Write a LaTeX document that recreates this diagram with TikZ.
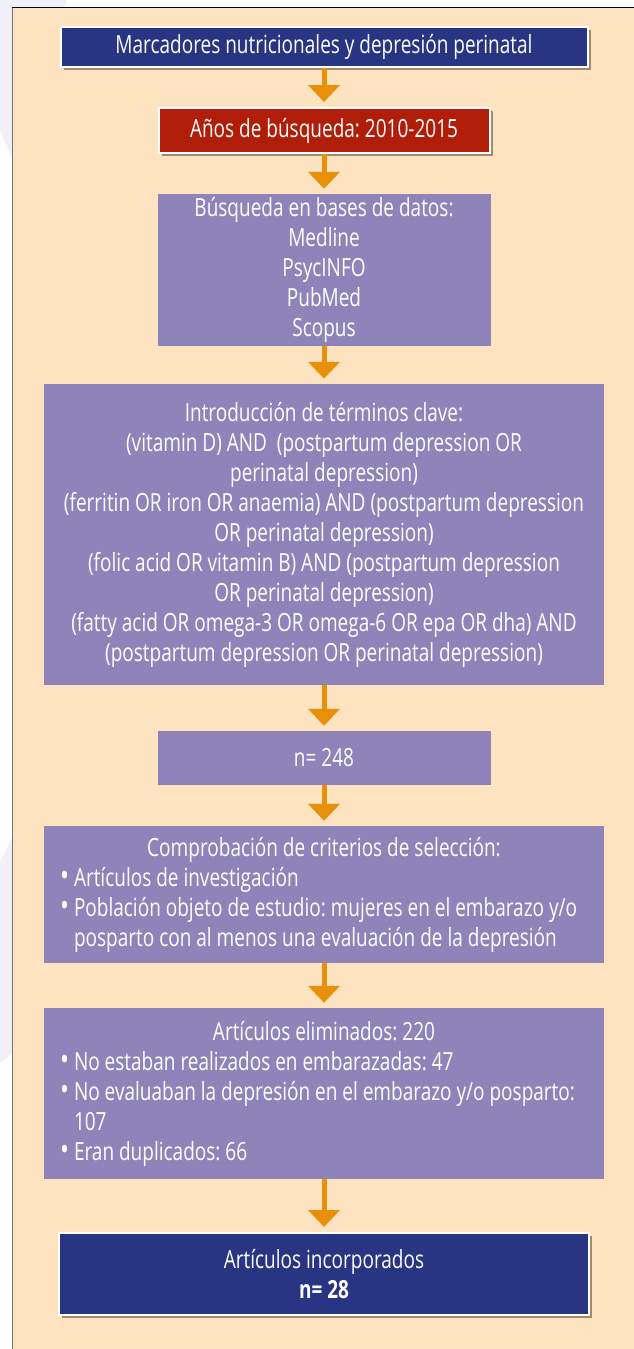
\documentclass[tikz,border=0pt]{standalone}
\usepackage{fontspec}
\setmainfont{Open Sans}[FakeStretch=0.76]
\usetikzlibrary{arrows.meta,shadows}

\definecolor{fondo}{HTML}{FDE3C0}
\definecolor{lila}{HTML}{F1F0F8}
\definecolor{marino}{HTML}{283583}
\definecolor{rojo}{HTML}{B01E0A}
\definecolor{morado}{HTML}{8F84BA}
\definecolor{naranja}{HTML}{E8900A}

% vinetas de las listas
\newcommand{\vineta}{\par\noindent\hspace*{16pt}\makebox[14pt][l]{\scalebox{1.25}{\textbullet}}}
\newcommand{\sigue}{\par\noindent\hspace*{30pt}}

\tikzset{
  caja/.style={fill=morado, text=white, inner sep=0pt, align=flush center,
    font=\fontsize{25}{30}\selectfont\frenchspacing},
  cajaborde/.style={caja, draw=white, line width=2pt,
    drop shadow={shadow xshift=3pt, shadow yshift=-3pt, fill=black!60!brown, opacity=.5}},
  flecha/.style={draw=naranja, line width=5pt, -{Triangle[width=31pt,length=17pt]}, shorten >=5pt}
}

\begin{document}
\begin{tikzpicture}[x=1pt,y=-1pt]
    \useasboundingbox (0,0) rectangle (634,1349);
    \fill[white] (0,0) rectangle (634,1349);
    \fill[lila] (0,0) -- (67,0) -- (12,157) -- (0,131) -- cycle;
    \fill[lila] (0,863) -- (12,837) -- (12,1053) -- (0,1063) -- cycle;
    \fill[fondo] (12,7) rectangle (634,1349);
    \draw[black!55, line width=1.5pt] (12.5,1349) -- (12.5,7);
    \draw[black, line width=1pt] (12,7.5) -- (634,7.5);

    \node[cajaborde, fill=marino, minimum width=527pt, minimum height=40pt] (titulo) at (324,47)
        {Marcadores nutricionales y depresión perinatal};
    \node[cajaborde, fill=rojo, minimum width=331pt, minimum height=45pt] (anios) at (324,130.5)
        {Años de búsqueda: 2010-2015};
    \node[caja, minimum width=333pt, minimum height=152pt] (bases) at (324,270)
        {Búsqueda en bases de datos:\\ Medline\\ PsycINFO\\ PubMed\\ Scopus};
    \node[caja, text width=560pt, minimum height=301pt] (terminos) at (324,534.5)
        {Introducción de términos clave:\\
         (vitamin D) AND \ (postpartum depression OR\\
         perinatal depression)\\
         (ferritin OR iron OR anaemia) AND (postpartum depression\\
         OR perinatal depression)\\
         (folic acid OR vitamin B) AND (postpartum depression\\
         OR perinatal depression)\\
         (fatty acid OR omega-3 OR omega-6 OR epa OR dha) AND\\
         (postpartum depression OR perinatal depression)};
    \node[caja, minimum width=333pt, minimum height=54pt] (n248) at (324,758) {n= 248};
    \node[caja, text width=560pt, minimum height=137pt, align=flush left] (criterios) at (324,894.5)
        {{\centering Comprobación de criterios de selección:\par}
         \vineta Artículos de investigación
         \vineta Población objeto de estudio: mujeres en el embarazo y/o
         \sigue posparto con al menos una evaluación de la depresión};
    \node[caja, text width=560pt, minimum height=171pt, align=flush left] (eliminados) at (324,1093.5)
        {{\centering Artículos eliminados: 220\par}
         \vineta No estaban realizados en embarazadas: 47
         \vineta No evaluaban la depresión en el embarazo y/o posparto:
         \sigue 107
         \vineta Eran duplicados: 66};
    \node[cajaborde, fill=marino, minimum width=530pt, minimum height=82pt] (incorporados) at (324,1274)
        {Artículos incorporados\\ \textbf{n= 28}};

    \draw[flecha] (titulo.south) -- (anios.north);
    \draw[flecha] (anios.south) -- (bases.north);
    \draw[flecha] (bases.south) -- (terminos.north);
    \draw[flecha] (terminos.south) -- (n248.north);
    \draw[flecha] (n248.south) -- (criterios.north);
    \draw[flecha] (criterios.south) -- (eliminados.north);
    \draw[flecha] (eliminados.south) -- (incorporados.north);
\end{tikzpicture}
\end{document}
